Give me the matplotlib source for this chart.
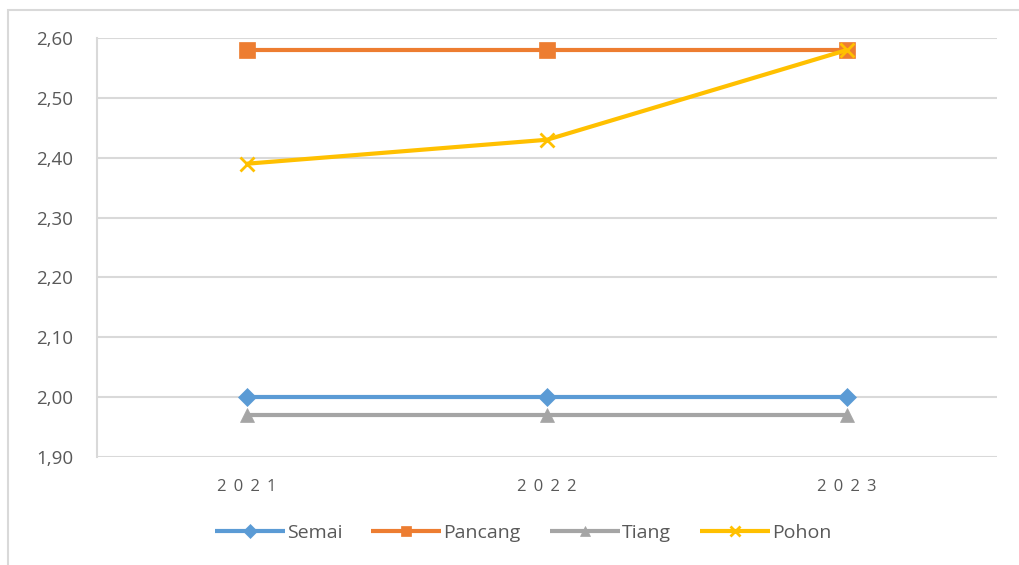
import matplotlib
matplotlib.use("Agg")
import matplotlib.pyplot as plt
from matplotlib.patches import Rectangle
from matplotlib.ticker import FuncFormatter

years = ["2021", "2022", "2023"]
semai = [2.00, 2.00, 2.00]
pancang = [2.58, 2.58, 2.58]
tiang = [1.97, 1.97, 1.97]
pohon = [2.39, 2.43, 2.58]

plt.rcParams['font.family'] = ['Open Sans', 'DejaVu Sans']

W, H = 1019, 565
fig = plt.figure(figsize=(W / 100, H / 100), dpi=100)
fig.patch.set_facecolor('white')

# light frame around the whole chart (runs off the right/bottom edge)
fig.patches.append(Rectangle((8 / W, -0.05), 1.2, 1 - 10 / H + 0.05,
                             transform=fig.transFigure, fill=False,
                             edgecolor='#d9d9d9', linewidth=1.5))

ax = fig.add_axes([97 / W, (H - 457) / H, 900 / W, 419 / H])
x = range(len(years))

series = [
    ("Semai", semai, '#5B9BD5', 'D', 9),
    ("Pancang", pancang, '#ED7D31', 's', 12),
    ("Tiang", tiang, '#A5A5A5', '^', 10),
    ("Pohon", pohon, '#FFC000', 'x', 10),
]
for name, vals, col, mk, ms in series:
    ax.plot(x, vals, color=col, linewidth=3, marker=mk, markersize=ms,
            markeredgewidth=2 if mk == 'x' else 0.5, markeredgecolor=col,
            label=name, solid_capstyle='butt', zorder=3)

ax.set_xlim(-0.5, 2.5)
ax.set_ylim(1.90, 2.60)
ax.set_yticks([1.90 + 0.1 * i for i in range(8)])
ax.yaxis.set_major_formatter(FuncFormatter(lambda v, p: f"{v:.2f}".replace('.', ',')))
ax.set_xticks(list(x))
ax.set_xticklabels(["\u2009 ".join(y) for y in years])

ax.grid(axis='y', color='#d9d9d9', linewidth=1.5, zorder=0)
for s in ['top', 'right', 'bottom']:
    ax.spines[s].set_visible(False)
ax.spines['left'].set_color('#d9d9d9')
ax.spines['left'].set_linewidth(1.5)
ax.tick_params(axis='both', length=0, colors='#595959')
ax.tick_params(axis='y', labelsize=13.5, pad=17)
ax.tick_params(axis='x', labelsize=12, pad=16)

leg = fig.legend(loc='center', bbox_to_anchor=(523 / W, (H - 533) / H), ncol=4,
                 frameon=False, fontsize=14, handlelength=3.6,
                 handletextpad=0.1, columnspacing=1.5)
for t in leg.get_texts():
    t.set_color('#595959')
for h in leg.legend_handles:
    h.set_markersize(7)

fig.savefig("out.png", dpi=100, facecolor='white')
